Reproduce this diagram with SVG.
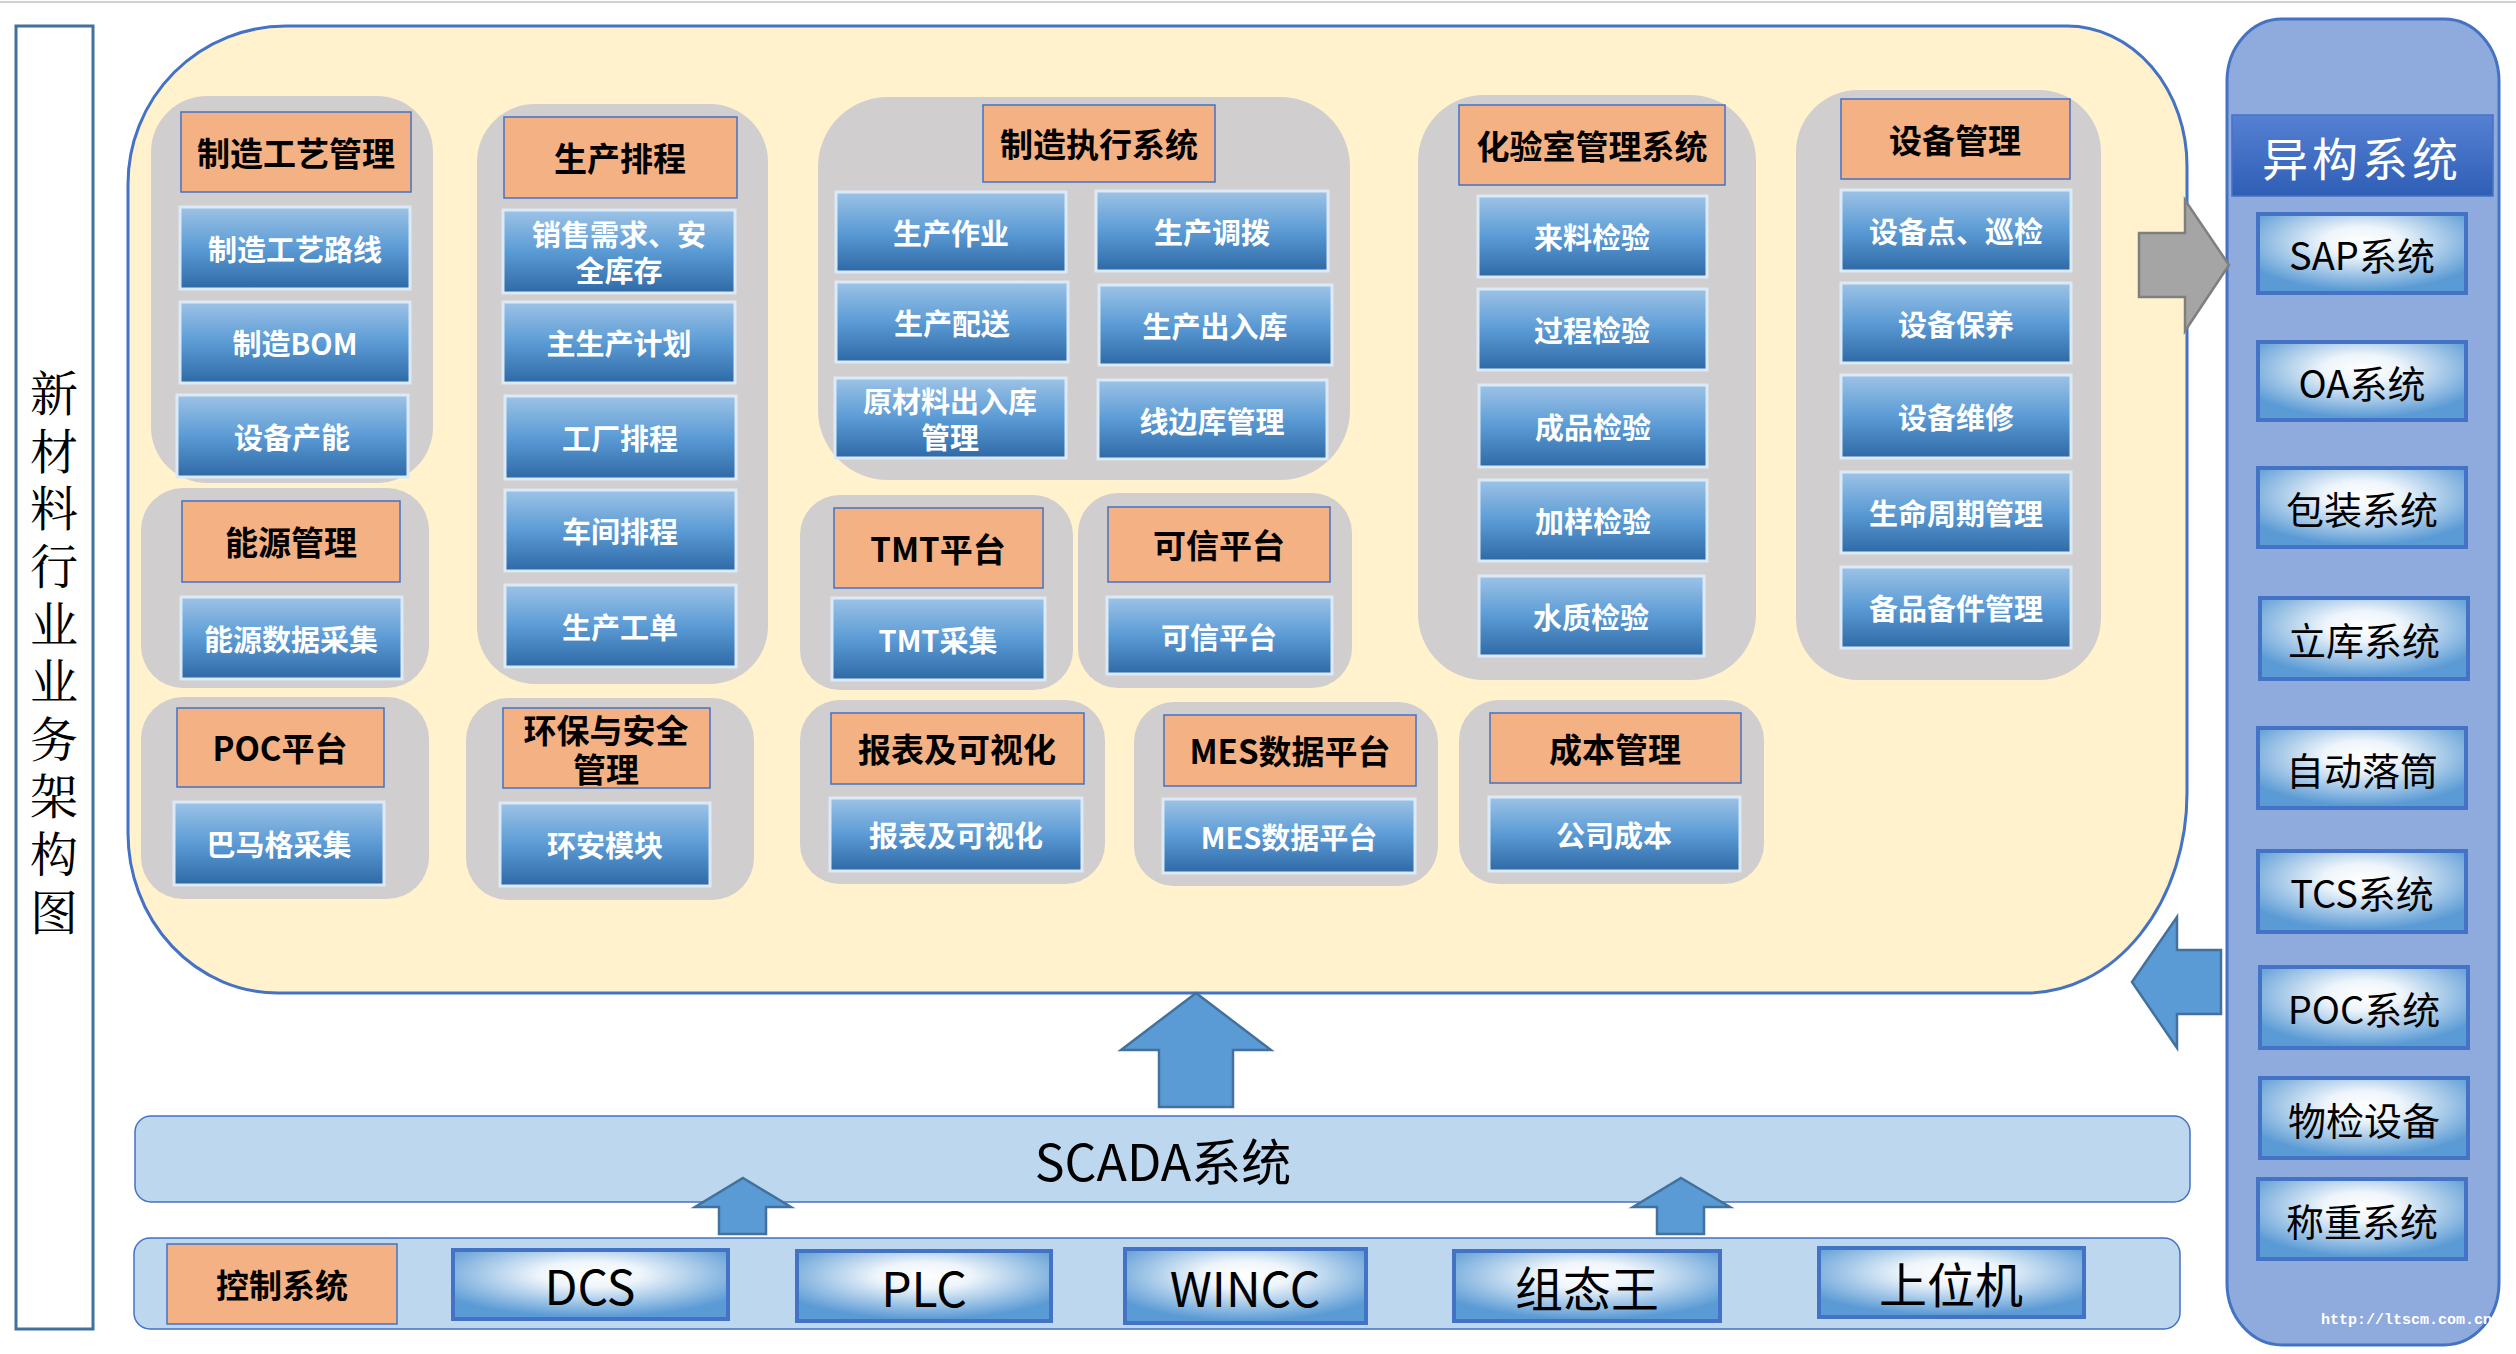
<svg xmlns="http://www.w3.org/2000/svg" width="2516" height="1354" viewBox="0 0 2516 1354">
<defs>
<linearGradient id="gBlue" x1="0" y1="0" x2="0" y2="1">
<stop offset="0" stop-color="#9DC3E6"/>
<stop offset="0.5" stop-color="#5B9BD5"/>
<stop offset="1" stop-color="#2E69A6"/>
</linearGradient>
<radialGradient id="gRad" cx="0.5" cy="0.35" r="0.62">
<stop offset="0" stop-color="#FFFFFF"/>
<stop offset="0.3" stop-color="#EEF5FB"/>
<stop offset="1" stop-color="#5B9BD5"/>
</radialGradient>
<linearGradient id="gTitle" x1="0" y1="0" x2="0" y2="1">
<stop offset="0" stop-color="#5581D3"/>
<stop offset="1" stop-color="#2F5EB6"/>
</linearGradient>
<style>
.grp{fill:#D0CECE}
.hdr{fill:#F4B183;stroke:#4472C4;stroke-width:1.5}
.item{fill:url(#gBlue);stroke:#DCE9F6;stroke-width:3}
.sys{fill:url(#gRad);stroke:#4472C4;stroke-width:4}
.ht{font-family:"Noto Sans CJK SC","Noto Sans",sans-serif;font-weight:700;font-size:33px;fill:#000;text-anchor:middle;dominant-baseline:central}
.it{font-family:"Noto Sans CJK SC","Noto Sans",sans-serif;font-weight:700;font-size:29px;fill:#fff;text-anchor:middle;dominant-baseline:central}
.st{font-family:"Noto Sans CJK SC","Noto Sans",sans-serif;font-weight:400;font-size:38px;fill:#000;text-anchor:middle;dominant-baseline:central}
.ct{font-family:"Noto Sans CJK SC","Noto Sans",sans-serif;font-weight:400;font-size:48px;fill:#000;text-anchor:middle;dominant-baseline:central}
.arrB{fill:#5B9BD5;stroke:#41719C;stroke-width:2.5}
.bar{fill:#BDD7EE;stroke:#4472C4;stroke-width:1.5}
</style>
</defs>
<rect x="0" y="0" width="2516" height="1354" fill="#FFFFFF"/>
<line x1="0" y1="2" x2="2516" y2="2" stroke="#D0D0D0" stroke-width="2"/>

<g id="title">
<rect x="16" y="26" width="77" height="1303" fill="#FFFFFF" stroke="#41719C" stroke-width="3"/>
<text x="54" y="369" font-family="'Noto Serif CJK SC','Noto Sans CJK SC',serif" font-size="48" fill="#000" style="writing-mode:vertical-rl" letter-spacing="9.6">新材料行业业务架构图</text>
</g>

<g id="business-area">
<path d="M286,26 H2067 A120,140 0 0 1 2187,166 V793 A160,200 0 0 1 2027,993 H278 A150,160 0 0 1 128,833 V184 A158,158 0 0 1 286,26 Z" fill="#FFF2CC" stroke="#4472C4" stroke-width="3"/>
</g>

<g id="g-process">
<rect class="grp" x="151" y="96" width="282" height="387" rx="56"/>
<rect class="hdr" x="181" y="112" width="230" height="80"/><text class="ht" x="296" y="152">制造工艺管理</text>
<rect class="item" x="180" y="207" width="230" height="82"/><text class="it" x="295" y="248">制造工艺路线</text>
<rect class="item" x="180" y="302" width="230" height="81"/><text class="it" x="295" y="342">制造BOM</text>
<rect class="item" x="177" y="395" width="231" height="82"/><text class="it" x="292" y="436">设备产能</text>
</g>

<g id="g-schedule">
<rect class="grp" x="477" y="104" width="291" height="580" rx="58"/>
<rect class="hdr" x="504" y="117" width="233" height="81"/><text class="ht" x="620" y="157">生产排程</text>
<rect class="item" x="503" y="210" width="232" height="83"/><text class="it" x="619" y="233">销售需求、安</text><text class="it" x="619" y="269">全库存</text>
<rect class="item" x="503" y="302" width="232" height="81"/><text class="it" x="619" y="342">主生产计划</text>
<rect class="item" x="505" y="396" width="231" height="83"/><text class="it" x="620" y="437">工厂排程</text>
<rect class="item" x="505" y="490" width="231" height="81"/><text class="it" x="620" y="530">车间排程</text>
<rect class="item" x="505" y="585" width="231" height="82"/><text class="it" x="620" y="626">生产工单</text>
</g>

<g id="g-energy">
<rect class="grp" x="141" y="488" width="288" height="200" rx="42"/>
<rect class="hdr" x="182" y="501" width="218" height="81"/><text class="ht" x="291" y="541">能源管理</text>
<rect class="item" x="181" y="597" width="221" height="82"/><text class="it" x="291" y="638">能源数据采集</text>
</g>

<g id="g-poc">
<rect class="grp" x="141" y="697" width="288" height="202" rx="42"/>
<rect class="hdr" x="177" y="708" width="207" height="79"/><text class="ht" x="280" y="747">POC平台</text>
<rect class="item" x="174" y="802" width="210" height="83"/><text class="it" x="279" y="843">巴马格采集</text>
</g>

<g id="g-ehs">
<rect class="grp" x="466" y="698" width="288" height="202" rx="42"/>
<rect class="hdr" x="503" y="708" width="207" height="80"/><text class="ht" x="606" y="729">环保与安全</text><text class="ht" x="606" y="768">管理</text>
<rect class="item" x="500" y="803" width="210" height="83"/><text class="it" x="605" y="844">环安模块</text>
</g>

<g id="g-mes">
<rect class="grp" x="818" y="97" width="532" height="383" rx="70"/>
<rect class="hdr" x="983" y="105" width="232" height="77"/><text class="ht" x="1099" y="143">制造执行系统</text>
<rect class="item" x="836" y="192" width="230" height="80"/><text class="it" x="951" y="232">生产作业</text>
<rect class="item" x="1096" y="191" width="232" height="80"/><text class="it" x="1212" y="231">生产调拨</text>
<rect class="item" x="836" y="282" width="232" height="80"/><text class="it" x="952" y="322">生产配送</text>
<rect class="item" x="1099" y="285" width="233" height="80"/><text class="it" x="1215" y="325">生产出入库</text>
<rect class="item" x="835" y="378" width="231" height="80"/><text class="it" x="950" y="400">原材料出入库</text><text class="it" x="950" y="436">管理</text>
<rect class="item" x="1098" y="380" width="229" height="79"/><text class="it" x="1212" y="420">线边库管理</text>
</g>

<g id="g-tmt">
<rect class="grp" x="800" y="495" width="273" height="195" rx="40"/>
<rect class="hdr" x="834" y="508" width="209" height="80"/><text class="ht" x="938" y="548">TMT平台</text>
<rect class="item" x="832" y="598" width="213" height="82"/><text class="it" x="938" y="639">TMT采集</text>
</g>

<g id="g-trust">
<rect class="grp" x="1078" y="493" width="274" height="195" rx="40"/>
<rect class="hdr" x="1108" y="507" width="222" height="75"/><text class="ht" x="1219" y="544">可信平台</text>
<rect class="item" x="1107" y="597" width="225" height="77"/><text class="it" x="1219" y="636">可信平台</text>
</g>

<g id="g-lims">
<rect class="grp" x="1418" y="95" width="338" height="585" rx="66"/>
<rect class="hdr" x="1459" y="105" width="266" height="80"/><text class="ht" x="1592" y="145">化验室管理系统</text>
<rect class="item" x="1478" y="196" width="229" height="81"/><text class="it" x="1592" y="236">来料检验</text>
<rect class="item" x="1478" y="289" width="229" height="81"/><text class="it" x="1592" y="329">过程检验</text>
<rect class="item" x="1479" y="385" width="228" height="82"/><text class="it" x="1593" y="426">成品检验</text>
<rect class="item" x="1479" y="480" width="228" height="81"/><text class="it" x="1593" y="520">加样检验</text>
<rect class="item" x="1479" y="576" width="225" height="80"/><text class="it" x="1591" y="616">水质检验</text>
</g>

<g id="g-equip">
<rect class="grp" x="1796" y="90" width="305" height="590" rx="62"/>
<rect class="hdr" x="1841" y="99" width="229" height="80"/><text class="ht" x="1955" y="139">设备管理</text>
<rect class="item" x="1841" y="190" width="230" height="81"/><text class="it" x="1956" y="230">设备点、巡检</text>
<rect class="item" x="1841" y="283" width="230" height="80"/><text class="it" x="1956" y="323">设备保养</text>
<rect class="item" x="1841" y="375" width="230" height="83"/><text class="it" x="1956" y="416">设备维修</text>
<rect class="item" x="1841" y="472" width="230" height="81"/><text class="it" x="1956" y="512">生命周期管理</text>
<rect class="item" x="1841" y="567" width="230" height="81"/><text class="it" x="1956" y="607">备品备件管理</text>
</g>

<g id="g-report">
<rect class="grp" x="800" y="700" width="305" height="184" rx="40"/>
<rect class="hdr" x="831" y="713" width="253" height="71"/><text class="ht" x="957" y="748">报表及可视化</text>
<rect class="item" x="830" y="798" width="252" height="73"/><text class="it" x="956" y="834">报表及可视化</text>
</g>

<g id="g-mesdata">
<rect class="grp" x="1134" y="702" width="304" height="184" rx="40"/>
<rect class="hdr" x="1164" y="715" width="252" height="71"/><text class="ht" x="1290" y="750">MES数据平台</text>
<rect class="item" x="1163" y="799" width="252" height="74"/><text class="it" x="1289" y="836">MES数据平台</text>
</g>

<g id="g-cost">
<rect class="grp" x="1459" y="700" width="305" height="184" rx="40"/>
<rect class="hdr" x="1490" y="713" width="251" height="70"/><text class="ht" x="1615" y="748">成本管理</text>
<rect class="item" x="1489" y="797" width="251" height="74"/><text class="it" x="1614" y="834">公司成本</text>
</g>

<g id="hetero">
<rect x="2227" y="19" width="272" height="1326" rx="55" ry="62" fill="#8FAADC" stroke="#4472C4" stroke-width="3"/>
<rect x="2232" y="115" width="261" height="81" fill="url(#gTitle)" stroke="#4A72C4" stroke-width="1.5"/>
<text x="2362" y="156" font-family="'Noto Sans CJK SC',sans-serif" font-size="46" fill="#FFFFFF" text-anchor="middle" dominant-baseline="central" letter-spacing="4">异构系统</text>
<rect class="sys" x="2258" y="214" width="208" height="79"/><text class="st" x="2362" y="253">SAP系统</text>
<rect class="sys" x="2258" y="342" width="208" height="78"/><text class="st" x="2362" y="381">OA系统</text>
<rect class="sys" x="2258" y="468" width="208" height="79"/><text class="st" x="2362" y="507">包装系统</text>
<rect class="sys" x="2260" y="598" width="208" height="81"/><text class="st" x="2364" y="638">立库系统</text>
<rect class="sys" x="2258" y="728" width="208" height="80"/><text class="st" x="2362" y="768">自动落筒</text>
<rect class="sys" x="2258" y="851" width="208" height="81"/><text class="st" x="2362" y="891">TCS系统</text>
<rect class="sys" x="2260" y="967" width="208" height="81"/><text class="st" x="2364" y="1007">POC系统</text>
<rect class="sys" x="2260" y="1078" width="208" height="80"/><text class="st" x="2364" y="1118">物检设备</text>
<rect class="sys" x="2258" y="1179" width="208" height="80"/><text class="st" x="2362" y="1219">称重系统</text>
<text x="2411" y="1324" font-family="'Liberation Mono',monospace" font-size="15" font-weight="700" fill="#FFFFFF" text-anchor="middle">http://ltscm.com.cn/</text>
</g>

<g id="scada">
<rect class="bar" x="135" y="1116" width="2055" height="86" rx="16"/>
<text x="1163" y="1159" font-family="'Noto Sans CJK SC',sans-serif" font-size="50" fill="#000" text-anchor="middle" dominant-baseline="central">SCADA系统</text>
</g>

<g id="control">
<rect class="bar" x="134" y="1238" width="2046" height="91" rx="16"/>
<rect class="hdr" x="167" y="1244" width="230" height="80"/><text class="ht" x="282" y="1284">控制系统</text>
<rect class="sys" x="453" y="1250" width="275" height="69"/><text class="ct" x="590" y="1284">DCS</text>
<rect class="sys" x="797" y="1251" width="254" height="70"/><text class="ct" x="924" y="1286">PLC</text>
<rect class="sys" x="1125" y="1249" width="241" height="74"/><text class="ct" x="1245" y="1286">WINCC</text>
<rect class="sys" x="1454" y="1251" width="266" height="70"/><text class="ct" x="1587" y="1286">组态王</text>
<rect class="sys" x="1819" y="1248" width="265" height="69"/><text class="ct" x="1951" y="1282">上位机</text>
</g>

<g id="connectors">
<polygon points="2139,233 2185,233 2185,200 2229,265 2185,331 2185,297 2139,297" fill="#A5A5A5" stroke="#7F7F7F" stroke-width="2.5"/>
<polygon class="arrB" points="2132,982 2177,917 2177,950 2221,950 2221,1014 2177,1014 2177,1048"/>
<polygon class="arrB" points="1196,993 1271,1050 1233,1050 1233,1107 1159,1107 1159,1050 1121,1050"/>
<polygon class="arrB" points="743,1178 791,1207 766,1207 766,1234 719,1234 719,1207 695,1207"/>
<polygon class="arrB" points="1681,1178 1730,1207 1704,1207 1704,1234 1657,1234 1657,1207 1633,1207"/>
</g>
</svg>
